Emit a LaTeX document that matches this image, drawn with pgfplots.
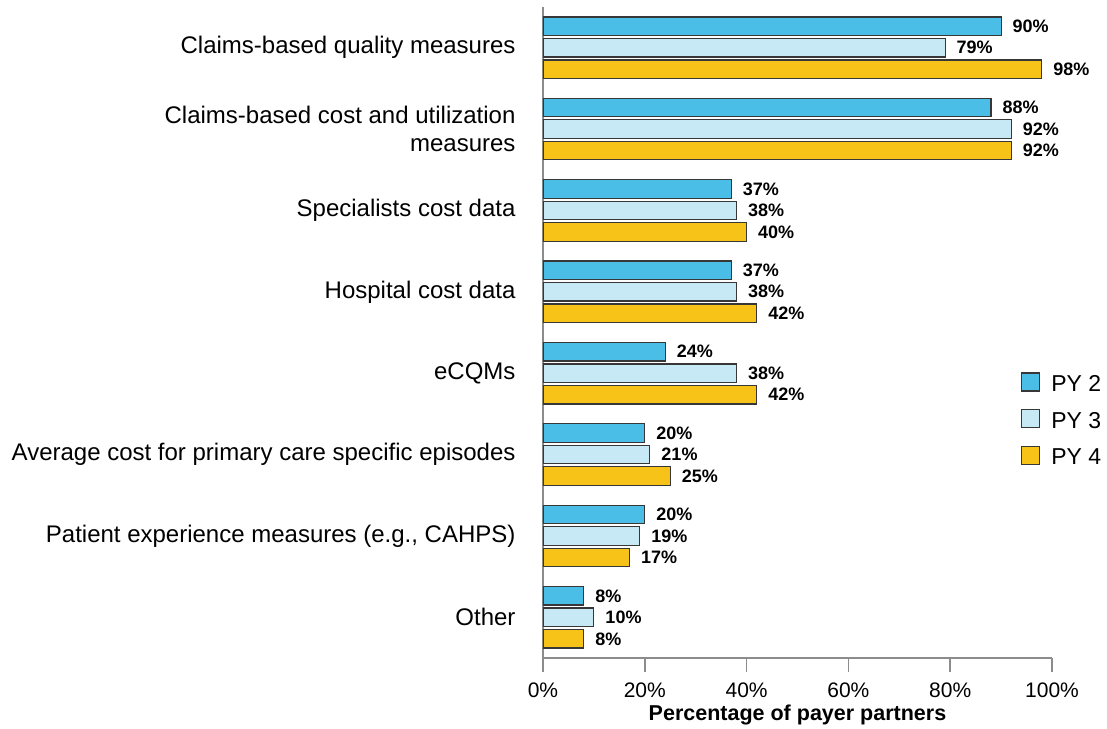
\documentclass[border=0pt]{standalone}
\usepackage{pgfplots}
\pgfplotsset{compat=1.18}
\usepackage{fontspec}
\setmainfont{Liberation Sans}
\definecolor{pytwo}{RGB}{75,190,232}
\definecolor{pythree}{RGB}{198,233,245}
\definecolor{pyfour}{RGB}{247,195,24}
\definecolor{edge}{RGB}{55,55,55}
\definecolor{axgray}{RGB}{140,140,140}
\begin{document}
\begin{tikzpicture}
\useasboundingbox (-543pt,-70pt) rectangle (564pt,658pt);
\begin{axis}[
  at={(0pt,0pt)}, anchor=south west,
  scale only axis, width=509pt, height=651pt,
  xbar=3pt, bar width=18.5pt,
  xmin=0, xmax=100, ymin=-0.5, ymax=7.5,
  axis lines*=left,
  axis line style={draw=axgray, line width=2pt},
  tick align=outside,
  major tick length=14pt,
  xtick={0,20,40,60,80,100},
  xticklabel={\pgfmathprintnumber{\tick}\%},
  /pgf/number format/assume math mode=true,
  x tick style={draw=axgray, line width=1.5pt},
  xticklabel style={font=\fontsize{21}{21}\selectfont, yshift=-7pt},
  ytick={0,1,2,3,4,5,6,7},
  yticklabels={Other,{Patient experience measures (e.g., CAHPS)},Average cost for primary care specific episodes,eCQMs,Hospital cost data,Specialists cost data,{Claims-based cost and utilization\\measures},Claims-based quality measures},
  y tick style={draw=none},
  yticklabel style={align=right, font=\fontsize{24}{28}\selectfont, xshift=-10pt},
  xlabel={Percentage of payer partners},
  xlabel style={font=\bfseries\fontsize{21.5}{21.5}\selectfont, inner sep=0pt, yshift=-4pt},
  point meta=x,
  nodes near coords={\pgfmathprintnumber{\pgfplotspointmeta}\%},
  nodes near coords style={font=\bfseries\fontsize{18}{18}\selectfont, anchor=west, inner sep=0pt, xshift=11pt},
  reverse legend,
  legend image code/.code={\draw[#1, draw=edge, line width=1.2pt] (0pt,-7pt) rectangle (18pt,11pt);},
  legend style={at={(axis description cs:0.939,0.439)}, anchor=north west, draw=none, fill=none, inner sep=0pt, row sep=16.5pt, column sep=11pt, font=\fontsize{23}{23}\selectfont, nodes={inner sep=0pt}},
]
\addplot[fill=pyfour, draw=edge, line width=1.2pt] coordinates {(98,7) (92,6) (40,5) (42,4) (42,3) (25,2) (17,1) (8,0)};
\addlegendentry{PY 4}
\addplot[fill=pythree, draw=edge, line width=1.2pt] coordinates {(79,7) (92,6) (38,5) (38,4) (38,3) (21,2) (19,1) (10,0)};
\addlegendentry{PY 3}
\addplot[fill=pytwo, draw=edge, line width=1.2pt] coordinates {(90,7) (88,6) (37,5) (37,4) (24,3) (20,2) (20,1) (8,0)};
\addlegendentry{PY 2}
\end{axis}
\end{tikzpicture}
\end{document}
